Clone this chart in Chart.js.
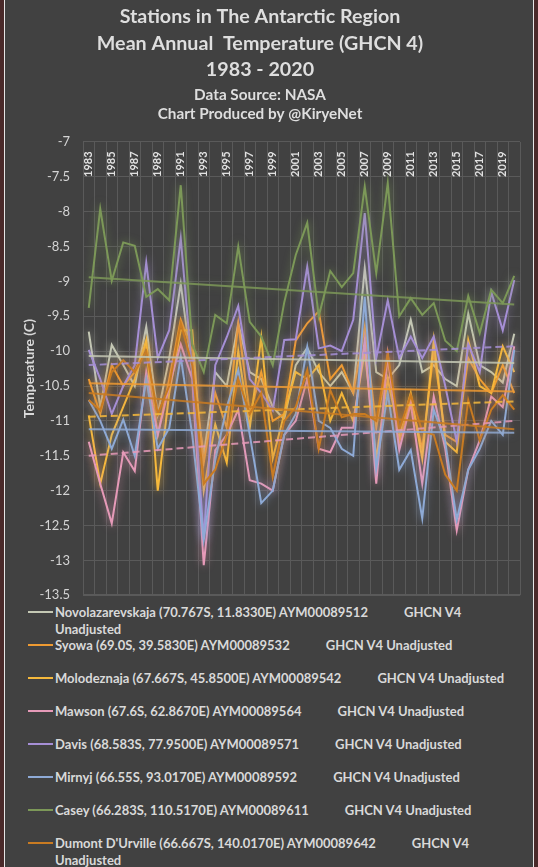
<!DOCTYPE html>
<html><head><meta charset="utf-8">
<script src="https://cdn.jsdelivr.net/npm/chart.js@4.4.1/dist/chart.umd.min.js"></script>
<style>
html,body{margin:0;padding:0;}
body{width:538px;height:867px;background:#4a2a2a;position:relative;overflow:hidden;font-family:Lato,sans-serif;}
#panel{position:absolute;left:4px;top:0;width:528px;height:867px;background:#414141;border-left:1px solid #e6e6e6;border-right:1px solid #e6e6e6;z-index:0;}
#wrap{position:absolute;left:0;top:0;width:522px;height:616px;z-index:2;pointer-events:none;}
#legend{position:absolute;left:28px;top:604px;width:487px;color:#d9d9d9;font:bold 13px Lato,sans-serif;z-index:1;}
.item{position:relative;height:33px;line-height:16.5px;padding-left:27px;}
.sw{position:absolute;left:0;top:7px;width:25px;height:2px;}
.src{margin-left:36px;}
canvas{display:block;}
</style></head>
<body>
<div id="panel"></div>
<div id="legend"></div>
<div id="wrap"><canvas id="c" width="522" height="616"></canvas></div>
<script>
const years = ['1983','1984','1985','1986','1987','1988','1989','1990','1991','1992','1993','1994','1995','1996','1997','1998','1999','2000','2001','2002','2003','2004','2005','2006','2007','2008','2009','2010','2011','2012','2013','2014','2015','2016','2017','2018','2019','2020'];
const xTickLabels = ['1983','1985','1987','1989','1991','1993','1995','1997','1999','2001','2003','2005','2007','2009','2011','2013','2015','2017','2019'];
const yTickValues = [-13.5,-13,-12.5,-12,-11.5,-11,-10.5,-10,-9.5,-9,-8.5,-8,-7.5,-7];

const stations = [
  'Novolazarevskaja (70.767S, 11.8330E) AYM00089512',
  'Syowa (69.0S, 39.5830E) AYM00089532',
  'Molodeznaja (67.667S, 45.8500E) AYM00089542',
  'Mawson (67.6S, 62.8670E) AYM00089564',
  'Davis (68.583S, 77.9500E) AYM00089571',
  'Mirnyj (66.55S, 93.0170E) AYM00089592',
  'Casey (66.283S, 110.5170E) AYM00089611',
  "Dumont D'Urville (66.667S, 140.0170E) AYM00089642"
];
const sourceLabel = 'GHCN V4 Unadjusted';

const novolazarevskaja = [-9.72,-10.8,-9.91,-10.2,-10.5,-9.65,-10.9,-10.1,-9.03,-10.3,-11.5,-10.3,-10.5,-9.6,-10.3,-10.4,-10.8,-10.98,-10.2,-9.95,-10.3,-10.5,-10.3,-10.6,-8.81,-10.3,-10.4,-10.2,-9.55,-10.3,-10.2,-10.4,-10.5,-9.46,-10.2,-10.3,-10.45,-9.75];
const syowa = [-10.4,-10.9,-10.2,-10.5,-10.3,-9.9,-11.2,-10.4,-9.55,-10.0,-11.6,-10.6,-11.1,-9.6,-10.9,-10.3,-11.0,-10.9,-9.85,-9.6,-9.43,-10.4,-10.2,-10.6,-9.65,-11.1,-10.1,-11.3,-10.7,-11.4,-10.0,-11.2,-11.3,-10.1,-10.4,-10.6,-10.2,-10.6];
const molodeznaja = [-10.92,-11.9,-11.2,-10.8,-10.4,-9.84,-12.0,-10.6,-9.7,-9.7,-12.0,-11.05,-11.6,-10.0,-11.1,-9.8,-11.54,-10.9,-10.3,-10.4,-10.2,-11.0,-10.6,-11.0,-10.0,-11.54,-10.4,-11.2,-10.6,-11.54,-9.84,-11.3,-11.45,-9.84,-10.5,-10.6,-9.93,-10.3];
const mawson = [-11.3,-11.9,-12.47,-11.45,-11.72,-10.3,-11.2,-10.5,-9.9,-10.4,-13.07,-11.42,-11.2,-10.84,-11.85,-11.9,-12.0,-11.2,-11.0,-10.4,-11.4,-11.45,-11.1,-11.1,-9.84,-11.9,-10.05,-11.42,-10.75,-11.9,-10.65,-11.4,-12.57,-11.7,-11.28,-10.65,-10.8,-9.93];
const davis = [-9.98,-10.4,-10.9,-10.5,-10.2,-8.73,-10.1,-9.7,-8.38,-10.3,-12.7,-10.2,-9.8,-9.35,-10.4,-10.6,-10.85,-9.84,-9.83,-8.79,-9.96,-9.92,-10.0,-9.55,-8.02,-10.1,-9.27,-10.1,-9.79,-10.1,-9.79,-10.5,-11.3,-9.9,-10.3,-9.15,-9.7,-8.98];
const mirnyj = [-10.7,-11.0,-11.4,-10.98,-11.5,-10.4,-11.4,-11.1,-10.08,-11.2,-12.7,-11.56,-10.8,-10.27,-11.2,-12.18,-12.0,-11.2,-10.9,-9.94,-11.0,-11.1,-11.4,-11.5,-9.22,-11.68,-10.6,-11.7,-11.42,-12.4,-10.84,-11.3,-12.42,-11.7,-11.4,-11.0,-11.2,-9.98];
const casey = [-9.38,-7.96,-8.99,-8.44,-8.49,-9.22,-9.11,-9.27,-7.62,-9.9,-10.3,-9.48,-9.6,-8.5,-9.58,-9.79,-10.2,-9.3,-8.62,-8.16,-9.5,-8.85,-9.08,-8.88,-7.64,-8.88,-7.59,-9.5,-9.24,-9.48,-9.31,-9.85,-10.0,-9.21,-9.74,-9.12,-9.31,-8.92];
const dumont = [-10.7,-10.85,-10.3,-10.13,-10.3,-10.0,-10.9,-10.5,-9.6,-10.2,-11.9,-11.7,-11.2,-10.4,-10.9,-10.6,-11.8,-11.0,-10.8,-10.27,-11.4,-10.56,-10.95,-10.9,-10.9,-11.0,-10.03,-11.13,-10.63,-11.15,-11.2,-11.77,-12.0,-10.7,-11.28,-10.84,-10.63,-10.84];
const seriesValues = [novolazarevskaja, syowa, molodeznaja, mawson, davis, mirnyj, casey, dumont];

// linear trend lines (value at 1983, value at 2020)
const trendStart = [-10.07,-10.46,-10.94,-11.5,-10.2,-11.12,-8.94,-10.6];
const trendEnd   = [-10.17,-10.58,-10.72,-11.0,-9.93,-11.17,-9.33,-11.12];
const trendDashed = [false,false,true,true,true,false,false,false];

const colors = ['#c4c8b4','#ee9a32','#f6b93c','#e69ab8','#a68fd6','#8eaad6','#7c9858','#c97b22'];

function rgba(hex,a){const n=parseInt(hex.slice(1),16);return `rgba(${n>>16},${(n>>8)&255},${n&255},${a})`;}

const datasets = [];
stations.forEach((name,i)=>{
  datasets.push({label:name+'        '+sourceLabel,data:seriesValues[i],borderColor:colors[i],borderWidth:2,pointRadius:0,tension:0,order:100-i,glow:rgba(colors[i],0.8),fill:false});
});
stations.forEach((name,i)=>{
  datasets.push({label:'Linear ('+name+')',data:[{x:years[0],y:trendStart[i]},{x:years[years.length-1],y:trendEnd[i]}],borderColor:rgba(colors[i],0.85),borderWidth:2,borderDash:trendDashed[i]?[7,4]:[],pointRadius:0,order:10-i,glow:rgba(colors[i],0.4),fill:false});
});

const gridColor = '#5a5a5a';

const glowPlugin = {
  id:'glow',
  beforeDatasetDraw(chart,args){const ds=chart.data.datasets[args.index];const ctx=chart.ctx;ctx.save();ctx.shadowColor=ds.glow;ctx.shadowBlur=9;},
  afterDatasetDraw(chart){chart.ctx.restore();}
};
const axisLabelPlugin = {
  id:'axislabels',
  beforeDatasetsDraw(chart){
    const ctx=chart.ctx, xs=chart.scales.x, ys=chart.scales.y, ca=chart.chartArea;
    ctx.save();
    // bottom gridline
    const yb=Math.round(ys.getPixelForValue(yTickValues[0]))-0.5;
    ctx.strokeStyle=gridColor;ctx.lineWidth=1;
    ctx.beginPath();ctx.moveTo(ca.left,yb);ctx.lineTo(ca.right,yb);ctx.stroke();
    // x labels (inside the plot, rotated)
    ctx.fillStyle='#e2e2e2';
    ctx.font='bold 11px Lato';
    ctx.textAlign='left';ctx.textBaseline='middle';
    xTickLabels.forEach(l=>{
      const x=xs.getPixelForValue(years.indexOf(l));
      ctx.save();ctx.translate(x,ca.top+35);ctx.rotate(-Math.PI/2);ctx.fillText(l,0,0);ctx.restore();
    });
    ctx.restore();
  },
  afterDraw(chart){
    const ctx=chart.ctx, ys=chart.scales.y, ca=chart.chartArea;
    ctx.save();
    ctx.fillStyle='#d4d4d4';
    ctx.font='13px Lato';
    ctx.textAlign='right';ctx.textBaseline='middle';
    yTickValues.forEach(v=>{ctx.fillText(String(v),ca.left-13,ys.getPixelForValue(v));});
    ctx.restore();
  }
};

const chart = new Chart(document.getElementById('c'),{
  type:'line',
  data:{labels:years,datasets},
  plugins:[glowPlugin,axisLabelPlugin],
  options:{
    responsive:false,animation:false,
    layout:{padding:{left:0,right:2,top:0,bottom:0}},
    plugins:{
      legend:{display:false},tooltip:{enabled:false},
      title:{display:true,text:['Stations in The Antarctic Region','Mean Annual  Temperature (GHCN 4)','1983 - 2020'],color:'#dedede',font:{family:'Lato',size:19.7,weight:'bold',lineHeight:1.345},padding:{top:3.75,bottom:0}},
      subtitle:{display:true,text:['Data Source: NASA','Chart Produced by @KiryeNet'],color:'#dedede',font:{family:'Lato',size:15.3,weight:'bold',lineHeight:1.242},padding:{top:2.25,bottom:18.5}}
    },
    scales:{
      x:{type:'category',position:'top',offset:true,grid:{offset:true,color:gridColor,drawTicks:false},border:{display:false},ticks:{display:false}},
      y:{min:-13.5,max:-7,position:'left',
        grid:{color:gridColor,drawTicks:false},border:{display:false},
        ticks:{stepSize:0.5,autoSkip:false,padding:13,color:'rgba(0,0,0,0)',font:{family:'Lato',size:13}},
        title:{display:true,text:'Temperature (C)',color:'#d9d9d9',font:{family:'Lato',size:14,weight:'bold'},padding:{top:20.6,bottom:0}},
        afterFit(s){s.width=83;}
      }
    }
  }
});

// HTML legend built from the station list
const leg=document.getElementById('legend');
stations.forEach((name,i)=>{
  const it=document.createElement('div');it.className='item';
  const sw=document.createElement('div');sw.className='sw';sw.style.background=colors[i];
  it.appendChild(sw);
  const t=document.createElement('span');t.textContent=name;it.appendChild(t);
  const s=document.createElement('span');s.className='src';s.textContent=sourceLabel;it.appendChild(s);
  leg.appendChild(it);
});
</script>
</body></html>
